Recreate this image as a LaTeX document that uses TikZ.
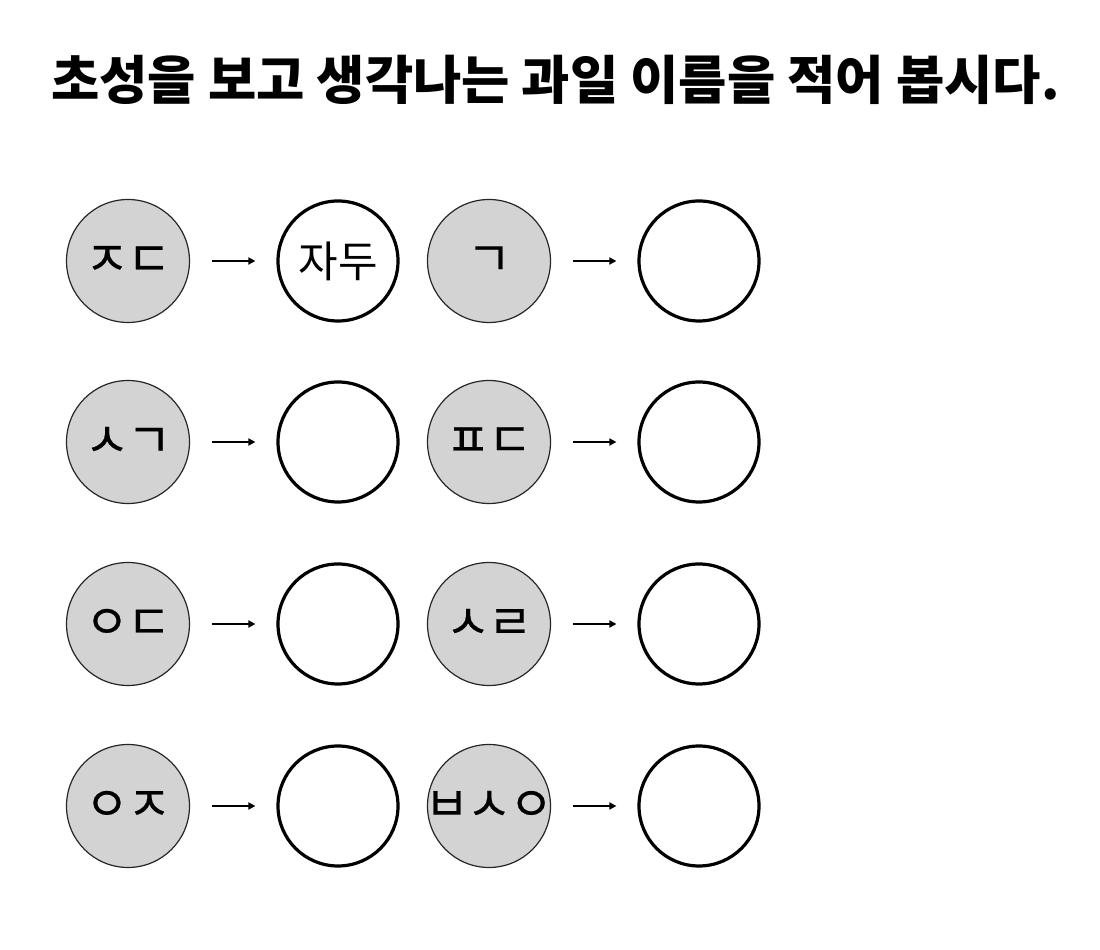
\documentclass[tikz,border=0pt]{standalone}
\usepackage{fontspec}
\setmainfont{Noto Sans CJK KR}
\newfontfamily\jamofont{Noto Sans CJK KR}[FakeBold=0.4]
\newcommand\jamosize{\jamofont\fontsize{48}{52}\selectfont\spaceskip -2pt\relax}
\usetikzlibrary{arrows.meta}
\definecolor{chipgray}{HTML}{D3D3D3}
\tikzset{
    heading/.style={inner sep=0pt, font=\bfseries\fontsize{52.5}{60}\selectfont},
    hint/.style={circle, draw=black!85, line width=1.2pt, fill=chipgray,
        minimum size=123pt, inner sep=-15pt, font=\jamosize},
    answer/.style={circle, draw=black, line width=3.2pt, fill=white,
        minimum size=120pt, inner sep=0pt, font=\fontsize{43}{46}\selectfont},
    guess/.style={-{Triangle[length=7pt,width=7pt]}, line width=1.8pt,
        shorten <=22pt, shorten >=21pt},
}

\begin{document}
\begin{tikzpicture}[x=1pt, y=1pt]
    \useasboundingbox (0,0) rectangle (1100,950);
    \node[heading, anchor=base west] (title) at (51, 850) {초성을 보고 생각나는 과일 이름을 적어 봅시다.};
    % row 1
    \node[hint] (h1) at (128, 689) {ㅈ ㄷ};
    \node[answer] (a1) at (338, 689) {자두};
    \node[hint] (h2) at (489, 689) {ㄱ};
    \node[answer] (a2) at (699, 689) {};
    % row 2
    \node[hint] (h3) at (128, 508) {ㅅ ㄱ};
    \node[answer] (a3) at (338, 508) {};
    \node[hint] (h4) at (489, 508) {ㅍ ㄷ};
    \node[answer] (a4) at (699, 508) {};
    % row 3
    \node[hint] (h5) at (128, 326) {ㅇ ㄷ};
    \node[answer] (a5) at (338, 326) {};
    \node[hint] (h6) at (489, 326) {ㅅ ㄹ};
    \node[answer] (a6) at (699, 326) {};
    % row 4
    \node[hint] (h7) at (128, 144) {ㅇ ㅈ};
    \node[answer] (a7) at (338, 144) {};
    \node[hint] (h8) at (489, 144) {ㅂ ㅅ ㅇ};
    \node[answer] (a8) at (699, 144) {};
    \draw[guess] (h1) -- (a1);
    \draw[guess] (h2) -- (a2);
    \draw[guess] (h3) -- (a3);
    \draw[guess] (h4) -- (a4);
    \draw[guess] (h5) -- (a5);
    \draw[guess] (h6) -- (a6);
    \draw[guess] (h7) -- (a7);
    \draw[guess] (h8) -- (a8);
\end{tikzpicture}
\end{document}
